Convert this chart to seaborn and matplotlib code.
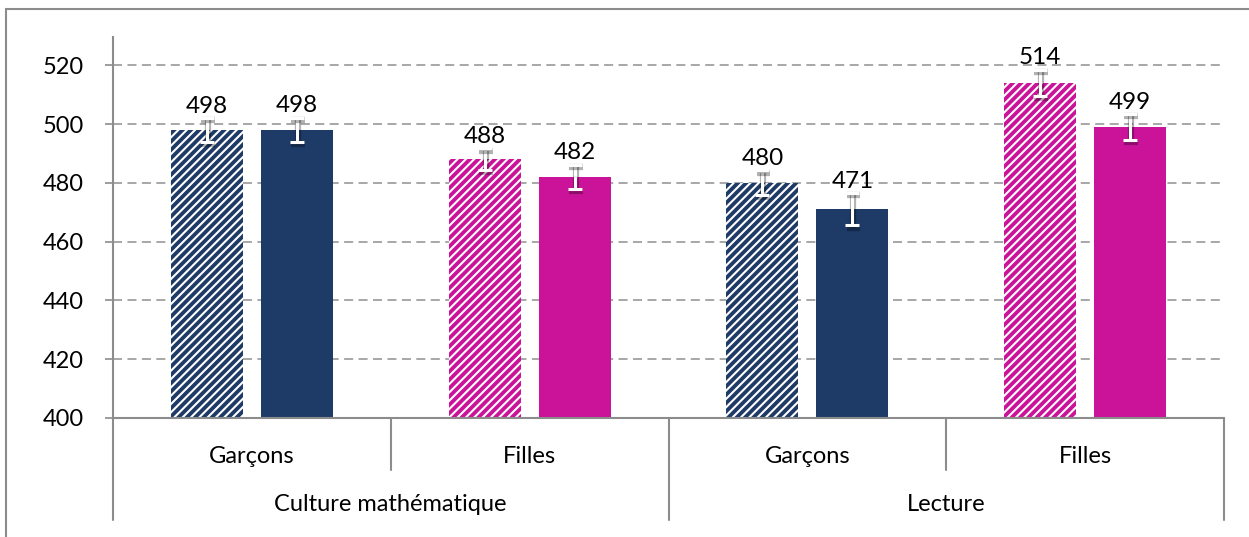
import pandas as pd
import matplotlib.pyplot as plt
import matplotlib.patheffects as pe
from matplotlib.patches import Rectangle
import seaborn as sns

# chart data
groups = ["Culture mathématique", "Culture mathématique", "Lecture", "Lecture"]
sexes = ["Garçons", "Filles", "Garçons", "Filles"]
series = ["Cycle précédent", "Cycle actuel"]
scores_prev = [498, 488, 480, 514]
scores_curr = [498, 482, 471, 499]
errors_prev = [4.0, 3.7, 4.2, 4.5]
errors_curr = [4.2, 4.2, 5.5, 4.3]
yticks = [400, 420, 440, 460, 480, 500, 520]

sex_colors = {"Garçons": "#1E3A66", "Filles": "#CB1399"}
gray = "#8c8c8c"


def build_frame():
    """Long-format table: one row per bar."""
    cats = [f"{g}|{s}" for g, s in zip(groups, sexes)]
    rows = []
    for name, scores, errs in [(series[0], scores_prev, errors_prev),
                               (series[1], scores_curr, errors_curr)]:
        for cat, sex, sc, er in zip(cats, sexes, scores, errs):
            rows.append({"cat": cat, "sex": sex, "series": name,
                         "score": sc, "err": er})
    return pd.DataFrame(rows), cats


def main():
    sns.set_style("white")
    plt.rcParams["font.family"] = ["Lato", "DejaVu Sans"]
    plt.rcParams["hatch.linewidth"] = 1.5

    data, cats = build_frame()

    fig = plt.figure(figsize=(12.49, 5.37), dpi=100)
    ax = fig.add_axes([113 / 1249, 119 / 537, 1111 / 1249, 381 / 537])

    sns.barplot(data=data, x="cat", y="score", hue="series",
                order=cats, hue_order=series, width=0.648, gap=0.2,
                errorbar=None, legend=False, ax=ax)

    shadow = [pe.SimpleLineShadow(offset=(0.8, -1.5), shadow_color="black",
                                  alpha=0.3, linewidth=4.5), pe.Normal()]

    bar_containers = list(ax.containers)
    for i, container in enumerate(bar_containers):
        sub = data[data["series"] == series[i]].reset_index(drop=True)
        for bar, (_, row) in zip(container, sub.iterrows()):
            color = sex_colors[row["sex"]]
            bar.set_facecolor(color)
            bar.set_linewidth(0)
            if i == 0:
                bar.set_edgecolor("white")
                bar.set_hatch("////")
            x = bar.get_x() + bar.get_width() / 2
            eb = ax.errorbar(x, row["score"], yerr=row["err"], fmt="none",
                             ecolor="white", elinewidth=2.2, capsize=5,
                             capthick=2.2, zorder=4)
            for ln in eb.lines[1]:
                ln.set_path_effects(shadow)
            for col in eb.lines[2]:
                col.set_path_effects(shadow)
            ax.text(x, row["score"] + row["err"] + 0.5, f"{row['score']}",
                    ha="center", va="bottom", fontsize=17.5, color="black",
                    zorder=5)

    ax.set_ylim(400, 529.6)
    ax.set_xlim(-0.5, 3.5)
    ax.set_yticks(yticks)
    ax.set_yticklabels([str(v) for v in yticks], fontsize=17, color="black")
    ax.yaxis.grid(True, linestyle=(0, (5, 3)), color="#a0a0a0", linewidth=1.3)
    ax.set_axisbelow(True)
    ax.tick_params(axis="y", direction="out", length=6, width=1.2,
                   color=gray, pad=15, left=True)

    ax.set_xticks(range(len(sexes)))
    ax.set_xticklabels(sexes, fontsize=17, color="black")
    ax.tick_params(axis="x", length=0, pad=20)
    ax.set_xlabel("")
    ax.set_ylabel("")

    for side in ["top", "right"]:
        ax.spines[side].set_visible(False)
    for side in ["left", "bottom"]:
        ax.spines[side].set_color(gray)
        ax.spines[side].set_linewidth(1.5)

    # two-level category axis
    trans = ax.get_xaxis_transform()
    for xs, depth in [([-0.5, 1.5, 3.5], -0.268), ([0.5, 2.5], -0.1365)]:
        for xv in xs:
            ax.plot([xv, xv], [0, depth], transform=trans, color=gray,
                    linewidth=1.5, clip_on=False)
    for xv, label in [(0.5, groups[0]), (2.5, groups[2])]:
        ax.text(xv, -0.228, label, transform=trans, ha="center", va="center",
                fontsize=17, color="black")

    # outer chart frame
    fig.add_artist(Rectangle((6 / 1249, -0.05), 1.2, 1.05 - 9 / 537,
                             transform=fig.transFigure, fill=False,
                             edgecolor=gray, linewidth=1.5, clip_on=False))

    fig.savefig("out.png", dpi=100)
    plt.close(fig)


if __name__ == "__main__":
    main()
